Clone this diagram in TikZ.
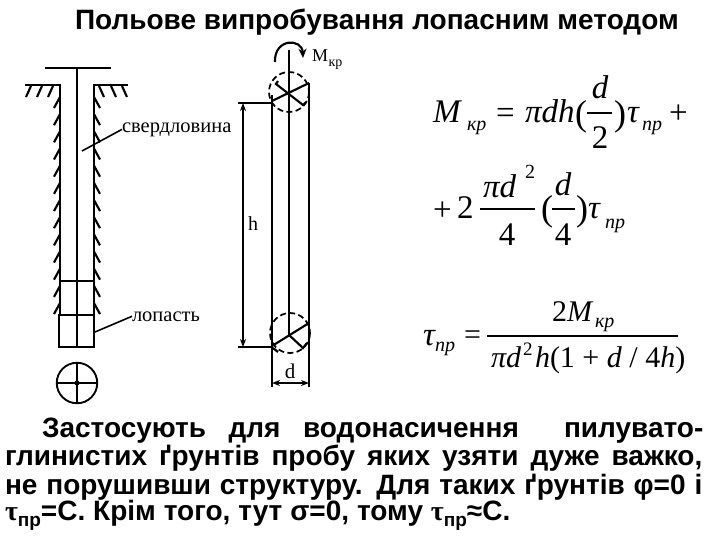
\documentclass[tikz,border=0pt]{standalone}
\usepackage{fontspec}
\setmainfont{Liberation Serif}
\setsansfont{Liberation Sans}
\usetikzlibrary{arrows.meta}
\newcommand{\pxf}[1]{\fontsize{\dimexpr#1pt*3/4\relax}{\dimexpr#1pt\relax}\selectfont}
\newcommand{\jline}[2]{\hbox to #1pt{\pxf{28}\sffamily\bfseries #2}}
\newcommand{\tauB}{{\rmfamily τ}}
\newcommand{\subB}[1]{\raisebox{-5pt}{\pxf{19}\sffamily\bfseries #1}}
\tikzset{
  x=0.75pt,y=-0.75pt,
  txt/.style={inner sep=0pt,outer sep=0pt,anchor=base west},
  ctr/.style={inner sep=0pt,outer sep=0pt,anchor=base},
  fm/.style={txt,font=\pxf{33}\itshape},
  fmu/.style={txt,font=\pxf{33}},
  fc/.style={ctr,font=\pxf{33}},
  fci/.style={ctr,font=\pxf{33}\itshape},
  fs/.style={txt,font=\pxf{20}\itshape},
  lbl/.style={txt,font=\pxf{20.5}},
  thick1/.style={line width=1.6pt},
  thick2/.style={line width=2pt},
  thin1/.style={line width=1.2pt},
  dashc/.style={line width=1.3pt,dash pattern=on 4.5pt off 2.5pt},
  dimarrow/.style={line width=1.2pt,{Stealth[length=6pt,width=4.5pt]}-{Stealth[length=6pt,width=4.5pt]}},
}
\begin{document}
\begin{tikzpicture}
\useasboundingbox[fill=white] (0,0) rectangle (720,540);
% title
\node[txt,font=\pxf{28}\sffamily\bfseries] (title) at (75,29) {Польове випробування лопасним методом};
% borehole
\draw[thick2] (45,68) -- (111,68);
\draw[thick1] (77,68) -- (77,347);
\draw[thick1] (25,85) -- (60,85) -- (60,315);
\draw[thick1] (128,85) -- (94,85) -- (94,315);
\foreach \x in {31,42,53} \draw[thick1] (\x,86) -- (\x-5,97);
\foreach \x in {99,111,122} \draw[thick1] (\x,86) -- (\x+5,97);
\foreach \i in {0,...,12} {
  \draw[thick1] (60,97+\i*17.17) -- (54,108+\i*17.17);
  \draw[thick1] (94,97+\i*17.17) -- (100,108+\i*17.17);
}
\draw[thin1] (60,281) -- (94,281);
\draw[thick2] (59,315) rectangle (94,347);
% bottom section circle
\node[circle,draw,line width=1.4pt,minimum size=40.5*0.75pt,inner sep=0pt] (sect) at (77,383) {};
\draw[thin1] (sect.west) -- (sect.east);
\draw[thin1] (sect.north) -- (sect.south);
\fill (sect.center) circle[radius=2.6];
% labels and leaders
\node[lbl] (sverd) at (122,132) {свердловина};
\node[lbl] (lopat) at (132,321) {лопасть};
\coordinate (c1) at (82,151);
\coordinate (c2) at (95,332);
\draw[thin1] (c1) -- (sverd.west);
\draw[thin1] (c2) -- (lopat.west);
% vane
\draw[thick1] (272,95) -- (272,387);
\draw[thick2] (309,83) -- (309,387);
\draw[thick1] (289,50) -- (289,335);
\draw[dashc] (289,92) circle[radius=20];
\draw[thick1] (272,101) -- (309,83);
\draw[thick1] (278,81) -- (276,84) -- (303,105) -- (306,102);
\draw[thick1,-{Stealth[length=7pt,width=6pt]}] (275,62) .. controls (274,38) and (302,38) .. (303,58);
\draw[dashc] (290,333) circle[radius=20];
\draw[thick1] (272,346) -- (309,323);
\draw[thick1] (289,335) -- (303,348) -- (307,343);
\draw[thick1] (273,348) -- (278,352);
% dimensions
\coordinate (ht) at (243,103); \coordinate (hb) at (243,347);
\coordinate (htl) at (238,103); \coordinate (htr) at (272,103);
\coordinate (hbl) at (238,347); \coordinate (hbr) at (272,347);
\coordinate (dl) at (272,383); \coordinate (dr) at (309,383);
\draw[thin1] (htl) -- (htr);
\draw[thin1] (hbl) -- (hbr);
\draw[dimarrow] (ht) -- (hb);
\draw[dimarrow] (dl) -- (dr);
\node[ctr,font=\pxf{20}] (hlab) at (253,230) {h};
\node[ctr,font=\pxf{21}] (dlab) at (290,378) {d};
\node[txt,font=\pxf{18}] (mk) at (312,61) {М};
\node[txt,font=\pxf{14}] (mks) at (328.5,66) {кр};
% formula 1
\node[fm] (a1) at (433,122) {M};
\node[fs] (a2) at (467,130) {кр};
\node[fmu] (a3) at (496,123) {=};
\node[fm] (a4) at (525,122) {πdh};
\node[txt,font=\pxf{36}] (a5) at (575,125) {(};
\node[fci] (a6) at (600,98) {d};
\node[fc] (a7) at (600,148) {2};
\node[txt,font=\pxf{36}] (a8) at (614,125) {)};
\node[fm] (a9) at (627,122) {τ};
\node[fs] (a10) at (642,130) {пр};
\node[fmu] (a11) at (669,123) {+};
\draw[thin1] (587,113) -- (612,113);
% formula 2
\node[fmu] (b1) at (433,220) {+};
\node[fmu] (b2) at (457,218) {2};
\node[fm] (b3) at (483,197) {πd};
\node[txt,font=\pxf{20}] (b4) at (525,178) {2};
\node[fc] (b5) at (507,245) {4};
\draw[thin1] (480,209) -- (535,209);
\node[txt,font=\pxf{36}] (b6) at (541,220) {(};
\node[fci] (b7) at (563,195) {d};
\node[fc] (b8) at (563,245) {4};
\draw[thin1] (552,209) -- (575,209);
\node[txt,font=\pxf{36}] (b9) at (576,220) {)};
\node[fm] (b10) at (588,218) {τ};
\node[fs] (b11) at (605,228) {пр};
% formula 3
\node[fm] (c3) at (423,345) {τ};
\node[fs] (c4) at (435,351) {пр};
\node[txt,font=\pxf{30}] (c5) at (464,344) {=};
\draw[thin1] (487,336) -- (678,336);
\node[txt,font=\pxf{30}] (c6) at (552,321) {2\textit{M}};
\node[fs] (c7) at (595,327) {кр};
\node[txt,font=\pxf{30}\itshape] (c8) at (491,367) {πd};
\node[txt,font=\pxf{19}] (c9) at (523,355) {2};
\node[txt,font=\pxf{30}] (c10) at (535,367) {\textit{h}(1 + \textit{d} / 4\textit{h})};
% body text
\node[txt] (l1) at (42,437) {\jline{496}{Застосують для водонасичення \ пилувато-}};
\node[txt] (l2) at (5,465) {\jline{523}{глинистих ґрунтів пробу яких узяти дуже важко,}};
\node[txt] (l3) at (5,494) {\jline{523}{не порушивши структуру. Для таких ґрунтів φ=0 і}};
\node[txt] (l4) at (5,520) {\jline{379}{\tauB\subB{пр}=С. Крім того, тут σ=0, тому \tauB\subB{пр}≈С.}};
\end{tikzpicture}
\end{document}
